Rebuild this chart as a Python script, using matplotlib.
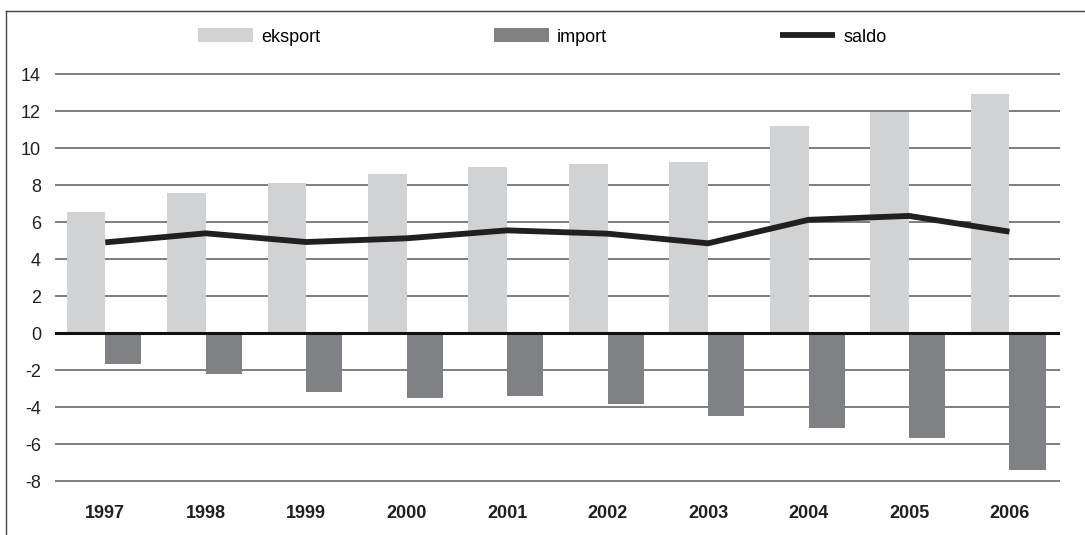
import matplotlib
matplotlib.use("Agg")
import matplotlib.pyplot as plt
from matplotlib.lines import Line2D
import numpy as np

plt.rcParams['font.family'] = ['Liberation Sans', 'DejaVu Sans']

years = ['1997', '1998', '1999', '2000', '2001', '2002', '2003', '2004', '2005', '2006']
eksport = [6.55, 7.55, 8.1, 8.62, 8.95, 9.15, 9.25, 11.2, 11.97, 12.9]
imports = [-1.7, -2.24, -3.21, -3.52, -3.43, -3.86, -4.48, -5.15, -5.69, -7.42]
saldo = [4.9, 5.39, 4.92, 5.12, 5.55, 5.37, 4.85, 6.12, 6.33, 5.48]
yticks = [-8, -6, -4, -2, 0, 2, 4, 6, 8, 10, 12, 14]

c_eks = '#d1d2d4'
c_imp = '#808184'
c_sal = '#231f20'

fig = plt.figure(figsize=(10.85, 5.35), dpi=100)
ax = fig.add_axes([0.0507, 0.0905, 0.926, 0.7815])

x = np.arange(len(years))
# eksport to the left of the category point, import to the right
b1 = ax.bar(x - 0.385, eksport, width=0.385, align='edge', color=c_eks, zorder=2, label='eksport')
b2 = ax.bar(x, imports, width=0.36, align='edge', color=c_imp, zorder=2, label='import')
l1, = ax.plot(x, saldo, color=c_sal, lw=4.2, zorder=4, label='saldo', solid_capstyle='butt')

for v in yticks:
    if v == 0:
        ax.axhline(0, color='#111111', lw=2.2, zorder=3)
    else:
        ax.axhline(v, color='#5a5a5a', lw=1.1, zorder=1)

ax.set_xlim(-0.5, 9.5)
ax.set_ylim(-8.3, 14.3)
ax.set_yticks(yticks)
ax.set_yticklabels([str(v) for v in yticks], fontsize=13, color='#231f20')
ax.set_xticks(x)
ax.set_xticklabels(years, fontsize=13, fontweight='bold', color='#231f20')
ax.tick_params(axis='y', length=0, pad=10)
ax.tick_params(axis='x', length=0, pad=13)
for s in ax.spines.values():
    s.set_visible(False)

# frame
fig.add_artist(Line2D([0.0055, 0.0055], [0, 1 - 11 / 535], color='#444444', lw=1.0))
fig.add_artist(Line2D([0.0055, 1], [1 - 11 / 535, 1 - 11 / 535], color='#444444', lw=1.0))

fig.legend([b1, b2, l1], ['eksport', 'import', 'saldo'], loc='center',
           bbox_to_anchor=(0.5, 1 - 37 / 535), ncol=3, frameon=False,
           fontsize=13, handlelength=3.05, handleheight=0.83, handletextpad=0.44,
           columnspacing=9.6)

fig.savefig('out.png', dpi=100)
